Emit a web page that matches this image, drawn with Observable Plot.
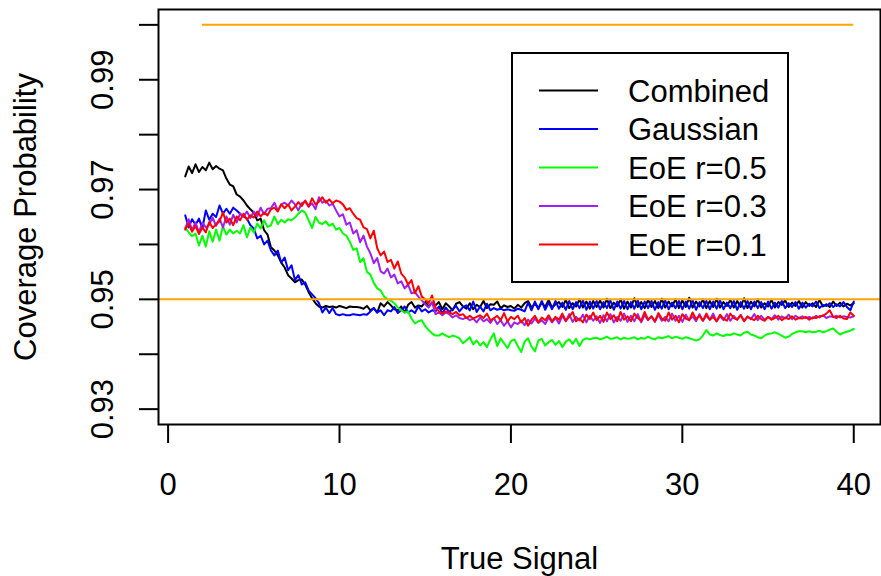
<!DOCTYPE html>
<html><head><meta charset="utf-8">
<script src="https://cdn.jsdelivr.net/npm/d3@7"></script>
<script src="https://cdn.jsdelivr.net/npm/@observablehq/plot@0.6"></script>
<style>
body{margin:0;background:#fff}
#chart{position:relative;width:881px;height:576px;font-family:"Liberation Sans",Arial,Helvetica,sans-serif}
#chart svg{display:block}
#legend{position:absolute;left:0;top:0;pointer-events:none}
</style>
</head><body><div id="chart"></div>
<script>
// coverage probabilities written as coverage x 10^4
// true signal grid: 1.0, 1.2, ..., 40.0 (196 points)
const signal = d3.range(196).map(i => +(1 + 0.2 * i).toFixed(1));

const combined = [
9724,9742,9730,9746,9732,9741,9735,9749,9737,9743,
9738,9735,9720,9709,9706,9691,9687,9680,9671,9664,
9658,9644,9647,9626,9618,9595,9589,9580,9567,9558,
9544,9538,9531,9535,9536,9527,9513,9502,9493,9487,
9485,9488,9486,9487,9485,9488,9486,9484,9487,9486,
9486,9485,9483,9488,9480,9484,9476,9493,9487,9495,
9489,9482,9480,9487,9476,9490,9495,9485,9489,9487,
9495,9487,9494,9489,9495,9482,9493,9487,9480,9492,
9495,9487,9483,9493,9482,9490,9486,9497,9484,9491,
9490,9496,9484,9489,9486,9488,9483,9490,9485,9493,
9497,9485,9492,9484,9494,9486,9499,9485,9491,9495,
9486,9499,9484,9493,9487,9500,9485,9496,9483,9497,
9486,9498,9485,9501,9484,9494,9487,9500,9483,9496,
9485,9502,9486,9495,9484,9499,9486,9497,9484,9501,
9485,9496,9487,9500,9484,9498,9486,9503,9485,9496,
9487,9500,9484,9497,9486,9501,9485,9495,9488,9499,
9485,9497,9486,9502,9484,9496,9487,9500,9485,9493,
9487,9499,9485,9495,9490,9498,9486,9494,9488,9497,
9485,9495,9488,9493,9486,9499,9487,9491,9486,9496,
9488,9494,9487,9492,9489,9493];

const gaussian = [
9653,9631,9646,9636,9647,9629,9662,9645,9656,9650,
9671,9656,9665,9656,9667,9662,9656,9651,9647,9635,
9629,9611,9616,9600,9607,9589,9580,9589,9567,9576,
9553,9562,9535,9544,9527,9531,9516,9509,9502,9493,
9476,9485,9475,9484,9473,9471,9473,9471,9471,9473,
9472,9471,9473,9472,9478,9484,9476,9480,9471,9480,
9478,9486,9475,9480,9487,9476,9480,9475,9487,9478,
9482,9476,9480,9478,9487,9474,9485,9477,9482,9488,
9478,9486,9489,9480,9496,9477,9487,9478,9492,9480,
9484,9481,9483,9480,9482,9480,9479,9483,9481,9478,
9494,9480,9496,9482,9497,9481,9494,9482,9497,9483,
9494,9481,9497,9482,9495,9484,9498,9481,9496,9483,
9497,9482,9495,9484,9498,9481,9496,9483,9497,9482,
9495,9483,9498,9482,9496,9484,9497,9481,9495,9483,
9498,9482,9494,9484,9497,9482,9496,9483,9498,9481,
9495,9484,9497,9482,9496,9483,9498,9482,9494,9484,
9497,9481,9495,9483,9497,9482,9496,9484,9495,9482,
9496,9483,9494,9485,9497,9484,9493,9486,9495,9483,
9494,9485,9492,9487,9496,9484,9490,9488,9493,9486,
9491,9487,9495,9486,9480,9496];

const eoe05 = [
9631,9622,9615,9620,9598,9616,9596,9624,9605,9627,
9607,9633,9618,9627,9620,9625,9620,9635,9613,9631,
9622,9638,9629,9644,9632,9635,9651,9637,9645,9640,
9646,9644,9649,9656,9662,9658,9644,9630,9650,9640,
9637,9642,9634,9638,9627,9630,9620,9616,9605,9590,
9593,9568,9575,9550,9545,9530,9520,9516,9505,9500,
9498,9493,9485,9480,9476,9478,9465,9456,9460,9462,
9451,9444,9438,9434,9434,9438,9434,9431,9434,9432,
9429,9420,9425,9431,9418,9425,9416,9422,9413,9427,
9438,9415,9429,9420,9411,9424,9427,9415,9404,9423,
9429,9414,9405,9425,9428,9416,9422,9426,9417,9424,
9413,9423,9427,9419,9428,9415,9426,9429,9427,9429,
9430,9427,9429,9432,9428,9429,9431,9427,9430,9428,
9429,9431,9427,9430,9428,9432,9429,9427,9431,9429,
9431,9433,9429,9432,9430,9428,9431,9429,9427,9425,
9427,9434,9444,9436,9434,9438,9435,9433,9436,9435,
9438,9436,9434,9439,9441,9436,9434,9431,9429,9434,
9437,9438,9440,9437,9434,9430,9432,9437,9440,9442,
9442,9440,9442,9440,9441,9443,9440,9442,9445,9447,
9441,9436,9439,9441,9443,9446];

const eoe03 = [
9629,9646,9626,9640,9622,9640,9631,9636,9649,9634,
9647,9631,9651,9636,9654,9640,9656,9651,9660,9648,
9660,9651,9667,9655,9665,9666,9676,9662,9673,9676,
9671,9680,9673,9662,9675,9678,9669,9675,9664,9686,
9676,9680,9671,9674,9662,9651,9655,9636,9640,9620,
9626,9604,9616,9596,9584,9566,9575,9551,9547,9556,
9540,9545,9529,9533,9520,9527,9511,9513,9505,9498,
9491,9485,9495,9473,9476,9471,9476,9473,9467,9471,
9466,9464,9467,9462,9465,9458,9467,9460,9464,9457,
9466,9455,9462,9452,9460,9449,9458,9455,9461,9453,
9463,9456,9465,9457,9462,9455,9467,9458,9466,9456,
9470,9460,9473,9459,9468,9462,9472,9458,9470,9461,
9469,9457,9471,9460,9473,9458,9468,9461,9474,9459,
9470,9460,9473,9458,9471,9462,9469,9459,9472,9461,
9468,9460,9474,9461,9470,9459,9472,9462,9469,9460,
9473,9461,9470,9463,9474,9460,9469,9462,9473,9461,
9470,9463,9472,9461,9469,9464,9473,9462,9470,9463,
9468,9464,9471,9463,9469,9465,9472,9464,9470,9466,
9469,9466,9468,9465,9470,9467,9471,9466,9469,9468,
9470,9467,9469,9468,9467,9469];

const eoe01 = [
9627,9638,9623,9634,9619,9631,9622,9641,9630,9637,
9642,9658,9640,9647,9635,9651,9644,9656,9645,9653,
9649,9660,9651,9658,9653,9664,9667,9660,9673,9666,
9673,9662,9669,9677,9670,9680,9669,9684,9673,9678,
9686,9676,9682,9675,9680,9678,9673,9663,9666,9656,
9648,9645,9631,9628,9611,9625,9593,9580,9587,9568,
9572,9556,9569,9547,9540,9527,9535,9511,9524,9505,
9500,9493,9507,9485,9478,9474,9478,9476,9473,9477,
9471,9473,9466,9470,9465,9468,9471,9466,9474,9462,
9465,9470,9462,9475,9460,9468,9464,9470,9458,9466,
9452,9463,9470,9458,9467,9462,9471,9460,9468,9463,
9474,9461,9468,9477,9460,9465,9458,9472,9464,9476,
9462,9470,9459,9476,9464,9471,9460,9477,9463,9469,
9460,9474,9466,9461,9477,9463,9469,9460,9475,9465,
9461,9476,9463,9470,9458,9473,9465,9462,9476,9464,
9470,9461,9474,9463,9468,9460,9472,9465,9461,9474,
9466,9463,9471,9460,9468,9465,9462,9470,9464,9461,
9468,9463,9466,9470,9462,9467,9464,9469,9463,9466,
9465,9468,9463,9467,9466,9469,9470,9474,9480,9468,
9466,9470,9465,9464,9476,9470];

const seriesNames = ["Combined", "Gaussian", "EoE r=0.5", "EoE r=0.3", "EoE r=0.1"];
const seriesValues = [combined, gaussian, eoe05, eoe03, eoe01];
const seriesColors = ["#000000", "#0000FF", "#00FF00", "#A020F0", "#FF0000"];

const xTicks = [0, 10, 20, 30, 40];
const yTicks = [0.93, 0.94, 0.95, 0.96, 0.97, 0.98, 0.99, 1.00];
const yTickLabels = [0.93, 0.95, 0.97, 0.99];
const nominal = [0.95];
const upperRef = [{y: 1.0, x1: 2, x2: 40}];
const refColor = "#FFA500";

const rows = seriesValues.map((vals, k) =>
  vals.map((v, i) => ({x: signal[i], y: v / 10000, series: seriesNames[k]})));

const font = '"Liberation Sans", Arial, Helvetica, sans-serif';

const plot = Plot.plot({
  width: 881,
  height: 576,
  marginLeft: 158,
  marginRight: 1,
  marginTop: 9,
  marginBottom: 152,
  style: {fontFamily: font, background: "white", color: "black", overflow: "visible"},
  x: {domain: [-0.56, 41.56]},
  y: {domain: [0.9272, 1.0028]},
  marks: [
    ...rows.map((r, k) => Plot.line(r, {x: "x", y: "y", stroke: seriesColors[k], strokeWidth: 2})),
    Plot.ruleY(nominal, {stroke: refColor, strokeWidth: 2}),
    Plot.ruleY(upperRef, {y: "y", x1: "x1", x2: "x2", stroke: refColor, strokeWidth: 2}),
    Plot.frame({stroke: "black", strokeWidth: 2}),
    Plot.axisX({ticks: xTicks, tickSize: 19, tickFormat: () => "", strokeWidth: 2, label: null}),
    Plot.axisY({ticks: yTicks, tickSize: 19, tickFormat: () => "", strokeWidth: 2, label: null}),
    Plot.text(xTicks, {x: d => d, text: d => String(d), frameAnchor: "bottom", dy: 70,
      lineAnchor: "bottom", fontSize: 31, fill: "black"}),
    Plot.text(yTickLabels, {y: d => d, text: d => d.toFixed(2), frameAnchor: "left", dx: -46,
      rotate: -90, lineAnchor: "bottom", textAnchor: "middle", fontSize: 31, fill: "black"}),
    Plot.text(["True Signal"], {text: d => d, frameAnchor: "bottom", dy: 144,
      lineAnchor: "bottom", fontSize: 31, fill: "black"}),
    Plot.text(["Coverage Probability"], {text: d => d, frameAnchor: "left", dx: -123,
      rotate: -90, lineAnchor: "bottom", textAnchor: "middle", fontSize: 31, fill: "black"})
  ]
});

const chart = document.getElementById("chart");
chart.appendChild(plot);

// legend box, drawn as an overlay
const lg = d3.select(chart).append("svg").attr("id", "legend")
  .attr("width", 881).attr("height", 576);
lg.append("rect").attr("x", 512).attr("y", 53).attr("width", 276).attr("height", 229)
  .attr("fill", "white").attr("stroke", "black").attr("stroke-width", 2);
seriesNames.forEach((name, k) => {
  const cy = 90.5 + k * 38.5;
  lg.append("line").attr("x1", 539).attr("x2", 598).attr("y1", cy).attr("y2", cy)
    .attr("stroke", seriesColors[k]).attr("stroke-width", 2);
  lg.append("text").attr("x", 628).attr("y", cy + 11.3).attr("font-size", 31)
    .attr("font-family", font).attr("fill", "black").text(name);
});
</script></body></html>
